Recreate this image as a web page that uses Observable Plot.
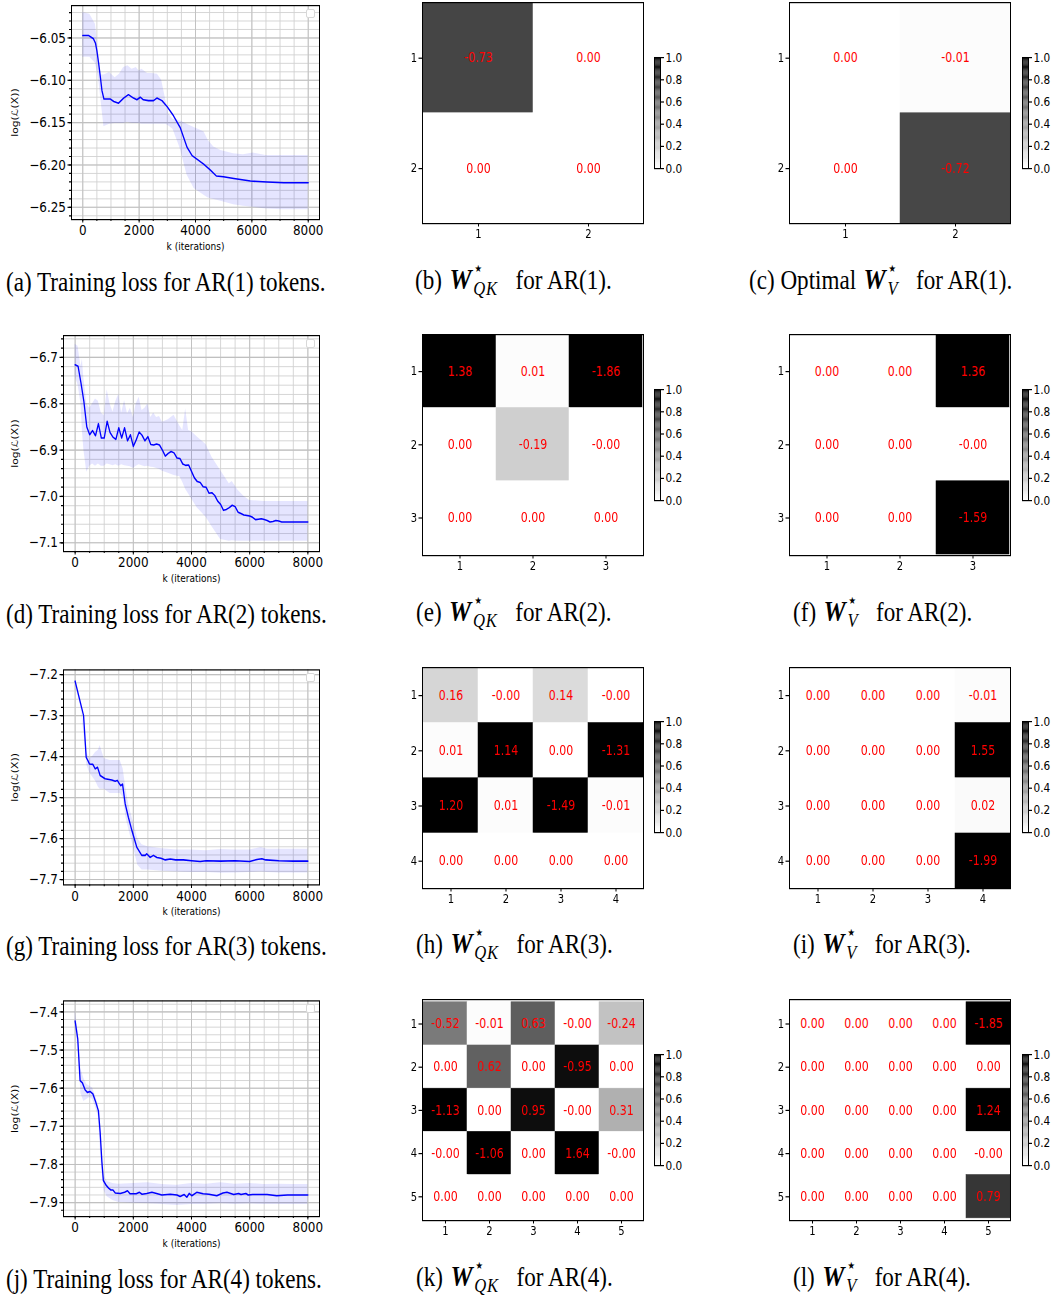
<!DOCTYPE html>
<html><head><meta charset="utf-8">
<script src="https://cdn.jsdelivr.net/npm/d3@7"></script>
<script src="https://cdn.jsdelivr.net/npm/@observablehq/plot@0.6"></script>
<style>
body{margin:0;background:#fff;}
#fig{position:relative;width:1052px;height:1295px;overflow:hidden;background:#fff;}
.p{position:absolute;transform-origin:0 0;}
.p svg{display:block;overflow:visible;max-width:none !important;}
.cap{position:absolute;font-family:"Liberation Serif","Times New Roman",serif;font-size:27.5px;white-space:nowrap;color:#000;line-height:1;transform:translateY(-50%) scaleX(0.84);transform-origin:0 50%;}
.lg{position:absolute;width:7px;height:7px;border:1px solid #d8d8d8;border-radius:2px;background:#fff;}
.W{font-weight:bold;font-style:italic;font-size:1.08em;margin-left:2px;}
.sb{position:relative;font-size:0.72em;font-style:italic;vertical-align:-0.32em;margin-left:2px;margin-right:14px;letter-spacing:1px;}
.st{position:absolute;left:0;top:-0.95em;font-style:normal;}
</style></head>
<body><div id="fig"></div>
<script>
// ---------- loss curves (mean and band) ----------
const lossA_iter = [0,200,380,450,500,560,620,680,750,970,1100,1270,1450,1620,1800,1920,2040,2150,2330,2510,2630,2810,2990,3220,3460,3700,3880,4050,4290,4530,4740,4990,5360,5950,6540,7130,8000];
const lossA_mean = [-6.047,-6.047,-6.051,-6.056,-6.065,-6.079,-6.095,-6.112,-6.122,-6.122,-6.125,-6.127,-6.121,-6.117,-6.121,-6.123,-6.120,-6.123,-6.124,-6.124,-6.121,-6.124,-6.131,-6.142,-6.156,-6.179,-6.189,-6.193,-6.199,-6.206,-6.213,-6.214,-6.216,-6.219,-6.220,-6.221,-6.221];
const bandA_iter = [0,250,450,550,650,750,950,1150,1300,1450,1600,1750,1900,2000,2100,2300,2450,2650,2800,2950,3050,3200,3450,3700,3950,4300,4450,4650,4900,5350,5700,6050,6500,7100,8000];
const bandA_high = [-6.020,-6.022,-6.034,-6.065,-6.094,-6.094,-6.091,-6.097,-6.093,-6.085,-6.083,-6.087,-6.085,-6.089,-6.087,-6.092,-6.092,-6.093,-6.100,-6.124,-6.140,-6.146,-6.148,-6.152,-6.156,-6.161,-6.171,-6.179,-6.183,-6.187,-6.188,-6.186,-6.189,-6.189,-6.189];
const bandA_low = [-6.073,-6.073,-6.080,-6.095,-6.125,-6.155,-6.152,-6.151,-6.151,-6.151,-6.150,-6.151,-6.151,-6.151,-6.152,-6.152,-6.152,-6.152,-6.152,-6.152,-6.154,-6.158,-6.180,-6.212,-6.228,-6.236,-6.239,-6.241,-6.243,-6.247,-6.249,-6.250,-6.252,-6.253,-6.253];

const lossD_iter = [0,100,200,300,400,500,600,700,800,900,1000,1100,1200,1300,1400,1500,1600,1700,1800,1900,2000,2100,2200,2300,2400,2500,2600,2700,2800,2900,3000,3100,3200,3300,3400,3500,3600,3700,3800,3900,4000,4100,4200,4300,4400,4500,4600,4700,4800,4900,5000,5100,5200,5300,5400,5500,5600,5700,5800,5900,6000,6100,6200,6300,6400,6500,6600,6700,6800,6900,7000,7100,7500,8000];
const lossD_mean = [-6.716,-6.719,-6.755,-6.795,-6.850,-6.867,-6.858,-6.869,-6.843,-6.874,-6.874,-6.838,-6.862,-6.872,-6.877,-6.852,-6.874,-6.852,-6.880,-6.867,-6.892,-6.878,-6.861,-6.868,-6.880,-6.871,-6.888,-6.889,-6.887,-6.889,-6.900,-6.913,-6.907,-6.903,-6.906,-6.917,-6.918,-6.930,-6.933,-6.932,-6.946,-6.960,-6.968,-6.970,-6.979,-6.980,-6.993,-6.992,-6.998,-7.010,-7.017,-7.030,-7.028,-7.024,-7.019,-7.022,-7.034,-7.037,-7.040,-7.041,-7.042,-7.045,-7.050,-7.049,-7.048,-7.050,-7.052,-7.055,-7.054,-7.052,-7.053,-7.055,-7.055,-7.055];
const bandD_iter = [0,100,200,250,300,400,500,600,700,800,900,1000,1100,1200,1300,1400,1500,1600,1700,1800,1900,2000,2100,2200,2300,2400,2500,2600,2700,2800,2900,3000,3200,3400,3600,3700,3800,3900,4000,4200,4500,4700,5000,5300,5400,5600,5800,6000,6500,7000,8000];
const bandD_high = [-6.672,-6.676,-6.720,-6.704,-6.745,-6.800,-6.810,-6.800,-6.790,-6.795,-6.820,-6.826,-6.770,-6.800,-6.818,-6.795,-6.780,-6.820,-6.793,-6.822,-6.810,-6.830,-6.800,-6.786,-6.815,-6.810,-6.800,-6.830,-6.820,-6.830,-6.828,-6.840,-6.835,-6.825,-6.848,-6.858,-6.811,-6.858,-6.860,-6.872,-6.888,-6.915,-6.944,-6.973,-6.968,-6.987,-7.000,-7.009,-7.011,-7.011,-7.011];
const bandD_low = [-6.742,-6.760,-6.800,-6.860,-6.900,-6.948,-6.935,-6.930,-6.935,-6.930,-6.935,-6.935,-6.930,-6.932,-6.934,-6.932,-6.935,-6.932,-6.934,-6.935,-6.936,-6.940,-6.935,-6.932,-6.934,-6.936,-6.935,-6.937,-6.938,-6.940,-6.942,-6.946,-6.950,-6.955,-6.958,-6.970,-6.985,-6.995,-7.005,-7.025,-7.045,-7.065,-7.093,-7.097,-7.096,-7.097,-7.097,-7.097,-7.097,-7.097,-7.097];

const lossG_iter = [0,290,380,440,490,610,690,770,860,1030,1260,1380,1450,1510,1570,1630,1720,1830,1950,2120,2290,2410,2460,2580,2690,2810,2950,3100,3270,3450,3720,4000,4300,4500,5000,5500,6000,6250,6420,6550,7000,7500,8000];
const lossG_mean = [-7.216,-7.300,-7.402,-7.410,-7.418,-7.419,-7.430,-7.426,-7.446,-7.454,-7.457,-7.460,-7.458,-7.465,-7.471,-7.467,-7.515,-7.548,-7.580,-7.621,-7.641,-7.641,-7.637,-7.646,-7.641,-7.646,-7.648,-7.652,-7.650,-7.652,-7.652,-7.654,-7.656,-7.654,-7.655,-7.654,-7.656,-7.651,-7.649,-7.652,-7.654,-7.655,-7.655];
const bandG_iter = [0,200,350,400,500,600,700,800,860,1000,1200,1400,1550,1650,1750,1850,2000,2150,2300,2500,3000,3500,4000,4500,5000,5500,6000,6400,6600,7000,8000];
const bandG_high = [-7.214,-7.270,-7.360,-7.390,-7.405,-7.400,-7.390,-7.385,-7.373,-7.405,-7.410,-7.410,-7.410,-7.430,-7.480,-7.520,-7.560,-7.600,-7.615,-7.620,-7.625,-7.628,-7.628,-7.630,-7.627,-7.628,-7.628,-7.622,-7.626,-7.626,-7.626];
const bandG_low = [-7.218,-7.280,-7.375,-7.420,-7.440,-7.450,-7.460,-7.475,-7.480,-7.480,-7.490,-7.490,-7.490,-7.500,-7.550,-7.580,-7.620,-7.665,-7.677,-7.677,-7.680,-7.682,-7.683,-7.683,-7.685,-7.684,-7.683,-7.682,-7.683,-7.684,-7.684];

const lossJ_iter = [0,90,170,250,340,420,520,610,710,800,860,920,970,1070,1150,1230,1300,1380,1550,1700,1800,1890,2100,2210,2300,2460,2640,2800,2980,3270,3500,3610,3750,3840,3920,4010,4180,4400,4600,4870,5080,5220,5450,5620,5700,5870,5950,6100,6600,6930,7300,8000];
const lossJ_mean = [-7.424,-7.471,-7.580,-7.586,-7.604,-7.611,-7.609,-7.615,-7.637,-7.659,-7.716,-7.794,-7.842,-7.855,-7.862,-7.867,-7.867,-7.875,-7.876,-7.873,-7.869,-7.877,-7.877,-7.873,-7.878,-7.876,-7.873,-7.876,-7.880,-7.878,-7.880,-7.884,-7.879,-7.886,-7.876,-7.882,-7.873,-7.877,-7.878,-7.882,-7.875,-7.873,-7.879,-7.876,-7.879,-7.876,-7.880,-7.879,-7.879,-7.882,-7.880,-7.880];
const bandJ_iter = [0,100,200,300,400,500,600,700,800,900,1000,1100,1300,1500,2000,2500,3000,3500,4000,4500,5000,5500,6000,6500,7000,7500,8000];
const bandJ_high = [-7.395,-7.450,-7.550,-7.575,-7.590,-7.595,-7.600,-7.620,-7.645,-7.740,-7.830,-7.845,-7.850,-7.852,-7.850,-7.848,-7.853,-7.855,-7.850,-7.852,-7.848,-7.852,-7.850,-7.853,-7.852,-7.853,-7.853];
const bandJ_low = [-7.440,-7.490,-7.615,-7.635,-7.630,-7.625,-7.630,-7.650,-7.675,-7.800,-7.870,-7.885,-7.895,-7.900,-7.902,-7.903,-7.905,-7.908,-7.905,-7.905,-7.903,-7.905,-7.904,-7.905,-7.905,-7.905,-7.905];

// tick values
const xMajorTicks = [0,2000,4000,6000,8000];
const xMinorTicks = [0,500,1000,1500,2000,2500,3000,3500,4000,4500,5000,5500,6000,6500,7000,7500,8000];
const yTicksA = [-6.25,-6.20,-6.15,-6.10,-6.05];
const yTicksD = [-7.1,-7.0,-6.9,-6.8,-6.7];
const yTicksG = [-7.7,-7.6,-7.5,-7.4,-7.3,-7.2];
const yTicksJ = [-7.9,-7.8,-7.7,-7.6,-7.5,-7.4];

// ---------- heatmap matrices ----------
const qk1 = [[-0.73,0.00],[0.00,0.00]];
const v1  = [[0.00,-0.01],[0.00,-0.72]];
const qk2 = [[1.38,0.01,-1.86],[0.00,-0.19,-0.00],[0.00,0.00,0.00]];
const v2  = [[0.00,0.00,1.36],[0.00,0.00,-0.00],[0.00,0.00,-1.59]];
const qk3 = [[0.16,-0.00,0.14,-0.00],[0.01,1.14,0.00,-1.31],[1.20,0.01,-1.49,-0.01],[0.00,0.00,0.00,0.00]];
const v3  = [[0.00,0.00,0.00,-0.01],[0.00,0.00,0.00,1.55],[0.00,0.00,0.00,0.02],[0.00,0.00,0.00,-1.99]];
const qk4 = [[-0.52,-0.01,0.63,-0.00,-0.24],[0.00,0.62,0.00,-0.95,0.00],[-1.13,0.00,0.95,-0.00,0.31],[-0.00,-1.06,0.00,1.64,-0.00],[0.00,0.00,0.00,0.00,0.00]];
const v4  = [[0.00,0.00,0.00,0.00,-1.85],[0.00,0.00,0.00,0.00,0.00],[0.00,0.00,0.00,0.00,1.24],[0.00,0.00,0.00,0.00,-0.00],[0.00,0.00,0.00,0.00,0.79]];
const colorbarTicks = [0,0.2,0.4,0.6,0.8,1.0];

// ---------- helpers ----------
const SY = 1.2; // the reference figure is stretched vertically
const fig = document.getElementById("fig");
const FONT = "DejaVu Sans";
function place(node, left, top){ const d=document.createElement("div"); d.className="p"; d.style.left=left+"px"; d.style.top=top+"px"; d.style.transform=`scaleY(${SY})`; d.appendChild(node); fig.appendChild(d); }
function minorRange(lo, hi, step){ const out=[]; const n0=Math.ceil(lo/step-1e-9), n1=Math.floor(hi/step+1e-9); for(let k=n0;k<=n1;k++) out.push(+(k*step).toFixed(4)); return out; }
const greys = t => { const c = Math.round(255*(1-t)); return `rgb(${c},${c},${c})`; };

function lossPlot(o){
  const mean = o.iter.map((x,i)=>({x, y:o.mean[i]}));
  const band = o.biter.map((x,i)=>({x, lo:o.low[i], hi:o.high[i]}));
  const yMinor = minorRange(o.yDomain[0], o.yDomain[1], o.minor);
  const svg = Plot.plot({
    width:330, height:o.height/SY, marginLeft:o.ml, marginRight:11, marginTop:o.mt/SY, marginBottom:o.mb/SY,
    style:{fontFamily:FONT, fontSize:"12px", background:"transparent", color:"black"},
    x:{domain:[-400,8400]},
    y:{domain:o.yDomain},
    marks:[
      Plot.gridX(xMinorTicks,{stroke:"#d0d0d0", strokeOpacity:1, strokeWidth:0.8}),
      Plot.gridY(yMinor,{stroke:"#d0d0d0", strokeOpacity:1, strokeWidth:0.8}),
      Plot.gridX(xMajorTicks,{stroke:"#c0c0c0", strokeOpacity:1, strokeWidth:0.9}),
      Plot.gridY(o.yTicks,{stroke:"#c0c0c0", strokeOpacity:1, strokeWidth:0.9}),
      Plot.areaY(band,{x:"x", y1:"lo", y2:"hi", fill:"blue", fillOpacity:0.1}),
      Plot.line(mean,{x:"x", y:"y", stroke:"blue", strokeWidth:1.3}),
      Plot.frame({stroke:"black", strokeWidth:1}),
      Plot.axisX(xMajorTicks,{tickSize:3, tickPadding:1.5, tickFormat:d=>String(d), label:null, fontSize:12}),
      Plot.axisX(xMinorTicks,{tickSize:1.7, text:null, label:null}),
      Plot.axisY(o.yTicks,{tickSize:3.5, tickPadding:2, tickFormat:d3.format(o.fmt), label:null, fontSize:12}),
      Plot.axisY(yMinor,{tickSize:2, text:null, label:null}),
      Plot.text(["k (iterations)"],{frameAnchor:"bottom", dy:27/SY, lineAnchor:"middle", textAnchor:"middle", fontSize:9}),
      Plot.text(["log(ℒ(X))"],{frameAnchor:"left", rotate:-90, dx:-(o.ml-15), textAnchor:"middle", lineAnchor:"middle", fontSize:9})
    ]
  });
  place(svg, 0, o.top);
  const lg=document.createElement("div"); lg.className="lg";
  lg.style.left=(330-11-13)+"px"; lg.style.top=(o.top+o.mt+4)+"px"; fig.appendChild(lg);
}

function fmt(v){ return (Object.is(v,-0) ? "-0.00" : v.toFixed(2)); }

function heat(M, left, frameTop){
  const n = M.length, idx = d3.range(1,n+1);
  const cells = [];
  M.forEach((row,i)=>row.forEach((v,j)=>cells.push({r:i+1, c:j+1, v})));
  const svg = Plot.plot({
    width:250, height:240/SY, marginLeft:22, marginRight:7, marginTop:2/SY, marginBottom:17/SY,
    style:{fontFamily:FONT, fontSize:"10px", background:"transparent", color:"black"},
    x:{type:"band", domain:idx, padding:0},
    y:{type:"band", domain:idx, padding:0},
    color:{type:"linear", domain:[0,1], interpolate:greys, clamp:true},
    marks:[
      Plot.cell(cells,{x:"c", y:"r", fill:d=>Math.abs(d.v), inset:0, stroke:d=>Math.abs(d.v), strokeWidth:0.5}),
      Plot.text(cells,{x:"c", y:"r", text:d=>fmt(d.v), fill:"red", fontSize:11}),
      Plot.frame({stroke:"black", strokeWidth:1}),
      Plot.axisX({tickSize:3, tickPadding:1.5, label:null, fontSize:10}),
      Plot.axisY({tickSize:3.5, tickPadding:2, label:null, fontSize:10})
    ]
  });
  place(svg, left-22, frameTop-2);
}

function colorbar(left, top){
  const steps = d3.range(0,1,0.01);
  const svg = Plot.plot({
    width:40, height:123/SY, marginLeft:4, marginRight:30, marginTop:6/SY, marginBottom:6/SY,
    style:{fontFamily:FONT, fontSize:"10.5px", background:"transparent", color:"black"},
    x:{domain:[0,1], axis:null},
    y:{domain:[0,1]},
    color:{type:"linear", domain:[0,1], interpolate:greys},
    marks:[
      Plot.rect(steps,{x1:d=>0, x2:d=>1, y1:d=>d, y2:d=>d+0.0101, fill:d=>d+0.005}),
      Plot.frame({stroke:"black", strokeWidth:1}),
      Plot.axisY(colorbarTicks,{anchor:"right", tickSize:3, tickPadding:2, tickFormat:d3.format(".1f"), label:null, fontSize:10.5})
    ]
  });
  place(svg, left-4, top-6);
}

function caption(html, left, cy){
  const d=document.createElement("div"); d.className="cap"; d.innerHTML=html;
  d.style.left=left+"px"; d.style.top=cy+"px"; fig.appendChild(d);
}
const WQK = `<span class="W">W</span><span class="sb"><span class="st">⋆</span>QK</span>`;
const WV  = `<span class="W">W</span><span class="sb"><span class="st">⋆</span>V</span>`;

// ---------- row 1 ----------
lossPlot({iter:lossA_iter, mean:lossA_mean, biter:bandA_iter, low:bandA_low, high:bandA_high,
  yDomain:[-6.2645,-6.0118], yTicks:yTicksA, minor:0.01, fmt:".2f", top:0, height:255, mt:5, mb:36, ml:71});
heat(qk1, 422, 2); colorbar(654, 57);
heat(v1, 789, 2); colorbar(1021.5, 57);
caption("(a) Training loss for AR(1) tokens.", 6, 282);
caption(`(b) ${WQK} for AR(1).`, 415, 282);
caption(`(c) Optimal ${WV} for AR(1).`, 749, 282);

// ---------- row 2 ----------
lossPlot({iter:lossD_iter, mean:lossD_mean, biter:bandD_iter, low:bandD_low, high:bandD_high,
  yDomain:[-7.119,-6.653], yTicks:yTicksD, minor:0.02, fmt:".1f", top:330, height:255, mt:5, mb:34, ml:63});
heat(qk2, 422, 334); colorbar(654, 389);
heat(v2, 789, 334); colorbar(1021.5, 389);
caption("(d) Training loss for AR(2) tokens.", 6, 614);
caption(`(e) ${WQK} for AR(2).`, 416, 614);
caption(`(f) ${WV} for AR(2).`, 793, 614);

// ---------- row 3 ----------
lossPlot({iter:lossG_iter, mean:lossG_mean, biter:bandG_iter, low:bandG_low, high:bandG_high,
  yDomain:[-7.713,-7.1885], yTicks:yTicksG, minor:0.02, fmt:".1f", top:664, height:255, mt:5.3, mb:34.7, ml:63});
heat(qk3, 422, 667); colorbar(654, 721);
heat(v3, 789, 667); colorbar(1021.5, 721);
caption("(g) Training loss for AR(3) tokens.", 6, 946);
caption(`(h) ${WQK} for AR(3).`, 416, 946);
caption(`(i) ${WV} for AR(3).`, 793, 946);

// ---------- row 4 ----------
lossPlot({iter:lossJ_iter, mean:lossJ_mean, biter:bandJ_iter, low:bandJ_low, high:bandJ_high,
  yDomain:[-7.9367,-7.3712], yTicks:yTicksJ, minor:0.02, fmt:".1f", top:995, height:255, mt:5.3, mb:34, ml:63});
heat(qk4, 422, 999); colorbar(654, 1054);
heat(v4, 789, 999); colorbar(1021.5, 1054);
caption("(j) Training loss for AR(4) tokens.", 6, 1279);
caption(`(k) ${WQK} for AR(4).`, 416, 1279);
caption(`(l) ${WV} for AR(4).`, 793, 1279);
</script>
</body></html>
